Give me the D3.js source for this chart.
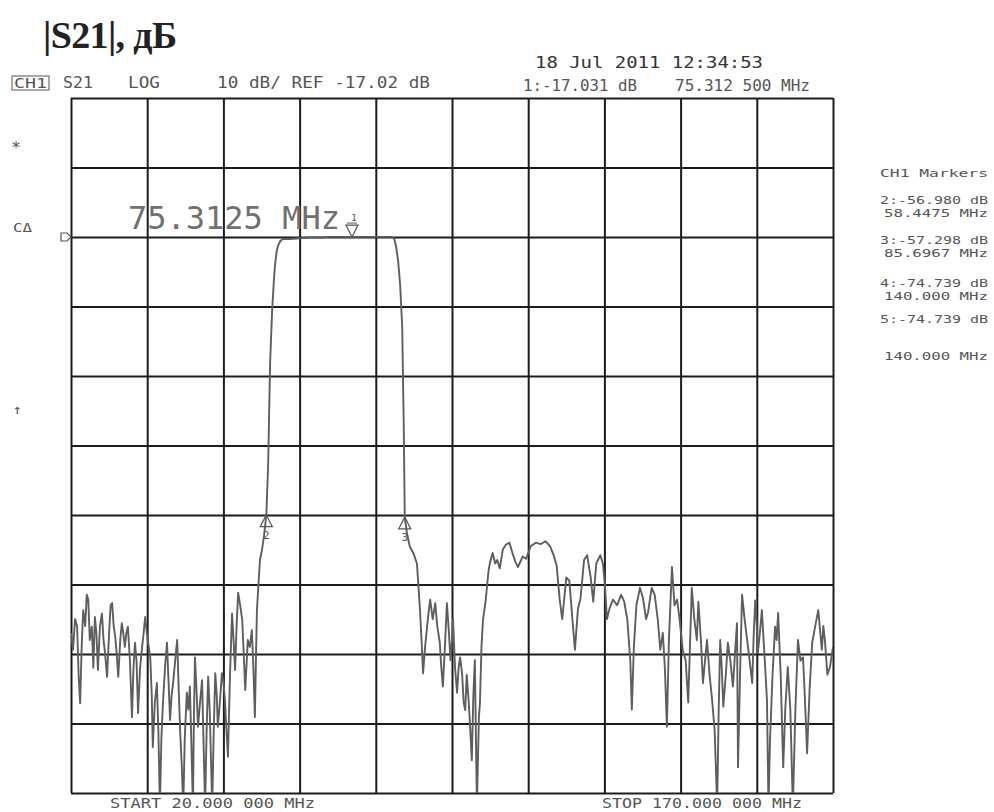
<!DOCTYPE html>
<html>
<head>
<meta charset="utf-8">
<script src="https://cdn.jsdelivr.net/npm/d3@7"></script>
<style>
  body { margin: 0; background: #fff; }
  svg { display: block; background: #fff; }
  .mono { font-family: 'DejaVu Sans Mono', monospace; fill: #555; }
</style>
</head>
<body>
<svg id="chart" width="994" height="812"></svg>
<script>
/* S21 sweep of a band-pass filter, redrawn from an analyzer printout */

// sweep settings
const startMHz = 20;
const stopMHz = 170;
const refDb = -17.02;
const dbPerDiv = 10;
const refDiv = 2; // ref line sits 2 divisions below the top

const traceS21 = [
  [20.0, -74], [20.4, -76.4], [20.8, -72], [21.2, -73.1], [21.5, -80], [21.8, -84.1],
  [22.1, -76], [22.4, -70.7], [22.8, -73], [23.1, -68.5], [23.4, -69.2], [23.7, -75],
  [24.1, -73.1], [24.4, -79], [24.7, -71.7], [25.0, -74], [25.3, -79.3], [25.7, -73],
  [26.1, -71.2], [26.4, -75], [26.7, -76.9], [27.1, -80.3], [27.5, -74], [27.8, -70],
  [28.1, -69.7], [28.4, -73], [28.7, -74.5], [29.0, -77], [29.3, -80.3], [29.7, -75],
  [30.0, -72.6], [30.3, -74], [30.6, -76], [30.9, -74], [31.2, -73.1], [31.6, -78],
  [32.0, -86.1], [32.3, -79], [32.6, -75.4], [32.9, -78], [33.2, -85.5], [33.6, -79],
  [34.0, -76], [34.3, -74], [34.6, -71.7], [35.0, -74.5],
  [35.3, -76], [35.6, -77.5], [35.9, -83], [36.1, -90.4], [36.5, -84], [36.9, -81.2],
  [37.2, -88], [37.5, -99], [37.8, -89], [38.1, -84.1], [38.5, -79], [38.9, -75.4],
  [39.2, -81], [39.5, -86.5], [39.8, -83], [40.1, -81.2], [40.5, -78], [40.9, -75],
  [41.2, -82], [41.5, -88.4], [41.8, -93], [42.1, -99], [42.4, -89], [42.8, -82.6],
  [43.1, -85], [43.4, -81.7], [43.7, -90], [44.0, -99], [44.2, -86], [44.4, -77.5],
  [44.7, -82], [45.0, -87.5], [45.4, -84], [45.8, -80.8], [46.1, -90], [46.4, -99],
  [46.7, -88], [47.0, -80.3], [47.3, -85], [47.8, -99], [48.1, -88], [48.4, -79.8],
  [48.7, -83], [48.9, -87.5], [49.3, -84], [49.7, -79.8], [50.0, -81], [50.3, -83.6],
  [50.6, -88], [50.9, -91.8],
  [51.3, -80], [51.7, -71.2], [52.0, -75], [52.3, -79.3], [52.6, -73], [52.9, -68.2],
  [53.3, -70], [53.7, -72.1], [54.0, -77], [54.3, -82.2], [54.6, -78], [54.8, -75],
  [55.2, -76], [55.6, -73.6], [55.9, -79], [56.2, -86.1], [56.4, -78], [56.6, -70.7],
  [56.9, -67], [57.2, -63.5], [57.6, -62], [58.0, -60], [58.45, -57.0],
  [58.8, -50], [59.2, -35], [59.6, -27.5], [60.0, -22.5], [60.2, -20.8], [60.5, -19],
  [60.8, -18.2], [61.2, -17.6], [61.7, -17.3],
  [63, -17.3], [65, -17.2], [67, -17.1], [69, -17.1], [71, -17.0], [73, -17.0],
  [75.3, -17.03], [77, -17.0], [79, -17.0], [81, -17.0], [83, -17.0],
  [83.6, -17.2], [84.0, -18.4], [84.4, -20.5], [84.8, -24], [85.2, -30], [85.5, -44],
  [85.7, -57.3], [86.1, -59.5], [86.7, -61.6], [87.4, -62.5], [88.1, -64],
  [88.7, -70.7], [89.0, -75], [89.3, -79.8], [89.7, -76], [90.1, -73.1], [90.4, -71],
  [90.7, -69.2], [91.2, -72], [91.7, -69.7], [92.1, -73], [92.6, -75.4], [92.9, -79],
  [93.2, -81.7], [93.6, -76], [94.0, -69.7], [94.4, -74], [94.7, -77.9], [95.0, -75],
  [95.2, -72], [95.6, -79], [96.0, -82.6], [96.3, -79], [96.6, -77.5], [97.0, -80],
  [97.3, -84], [97.6, -85.1], [97.9, -80], [98.3, -84], [98.6, -88], [98.9, -92.3],
  [99.2, -83], [99.5, -77.9], [99.9, -99], [100.3, -86], [100.5, -84.1], [100.8, -76],
  [101.1, -72.1], [101.6, -69.5], [102.2, -65], [102.5, -63.8], [103.0, -62.5], [103.5, -64],
  [103.9, -63.5], [104.4, -64.7], [105.0, -62], [105.6, -61.3], [106.3, -61], [106.9, -62.5],
  [107.5, -63.8], [108.0, -64.5], [108.9, -63], [109.6, -63.3], [110.5, -61.5], [111.5, -61],
  [112.5, -61.2], [113.4, -60.8], [114.3, -61.5], [115.0, -62.8], [115.6, -64.3], [116.2, -69.2],
  [116.7, -72], [117.5, -66], [118.1, -66.5], [118.7, -72], [119.2, -76.4], [119.8, -70.5],
  [120.3, -69], [121.0, -63.5], [121.6, -62.8], [122.3, -66], [122.8, -69.5], [123.4, -64],
  [124.2, -62.8], [124.7, -64], [125.1, -67], [125.5, -72], [126.0, -70.5], [126.7, -69.2],
  [127.5, -70], [128.3, -68.5], [128.9, -69.5], [129.5, -72], [130.1, -78], [130.4, -85],
  [130.8, -76], [131.3, -70], [132.0, -67.5], [132.6, -69], [133.2, -72], [133.6, -71],
  [134.3, -67.5], [134.9, -68.5], [135.5, -72], [136.0, -76.4], [136.5, -74], [136.9, -79],
  [137.3, -87.5], [137.7, -75], [138.3, -64.5], [138.8, -70], [139.3, -69.2], [139.8, -72],
  [140.4, -76.4], [141.0, -78], [141.5, -84], [142.2, -67.5], [142.7, -72], [143.2, -75],
  [143.5, -69.5], [144.0, -75], [144.4, -81.2],
  [144.8, -78], [145.2, -75], [145.7, -80], [146.2, -83.6], [146.7, -88], [147.2, -99],
  [147.5, -85], [147.8, -75], [148.1, -79], [148.4, -84.6], [148.9, -80], [149.3, -75.4],
  [149.8, -78], [150.3, -81.7], [150.7, -77], [151.1, -72.6], [151.3, -93.3], [151.7, -80],
  [152.1, -68.5], [152.6, -72], [153.1, -75], [153.6, -78], [154.1, -81.2], [154.4, -74],
  [154.7, -69.3], [155.0, -73], [155.2, -76.9], [155.6, -74], [156.0, -70.7], [156.5, -77],
  [157.0, -83.6], [157.3, -99], [157.6, -89.4], [158.1, -80], [158.6, -73.1], [158.9, -75],
  [159.2, -71.1], [159.7, -80], [160.2, -93.3], [160.6, -85], [161.1, -78.9], [161.6, -85],
  [162.1, -99], [162.6, -85], [163.1, -75], [163.6, -78], [164.1, -77.5], [164.5, -84],
  [164.9, -91.3], [165.4, -82], [165.9, -75.4], [166.5, -73], [167.1, -70.7], [167.5, -74],
  [167.8, -76.4], [168.1, -73], [168.4, -75], [168.9, -80], [169.4, -78.9], [170.0, -76],
];

// markers shown on the trace
const markerIds = ['1', '2', '3'];
const markerMHz = [75.3125, 58.4475, 85.6967];
const markerDb = [-17.031, -56.98, -57.298];

// marker table on the right
const tableLines = [
  'CH1 Markers',
  '2:-56.980 dB', '58.4475 MHz',
  '3:-57.298 dB', '85.6967 MHz',
  '4:-74.739 dB', '140.000 MHz',
  '5:-74.739 dB', '140.000 MHz',
];
const tableBaselines = [177, 204, 217, 244, 257, 287, 300, 323, 360];

const svg = d3.select('#chart');

// plot box
const plotLeft = 71;
const plotRight = 833;
const plotTop = 98;
const plotBottom = 793;

const x = d3.scaleLinear()
  .domain([startMHz, stopMHz])
  .range([plotLeft, plotRight]);

const topDb = refDb + refDiv * dbPerDiv;
const y = d3.scaleLinear()
  .domain([topDb - 10 * dbPerDiv, topDb])
  .range([plotBottom, plotTop]);

const xGrid = d3.range(0, 11).map((i) => startMHz + i * (stopMHz - startMHz) / 10);
const yGrid = d3.range(0, 11).map((i) => topDb - i * dbPerDiv);

// graticule: axes with full-length ticks and no labels
svg.append('g')
  .attr('transform', `translate(0,${plotBottom})`)
  .call(d3.axisBottom(x).tickValues(xGrid).tickSize(-(plotBottom - plotTop)).tickFormat(''))
  .call((g) => g.select('.domain').remove())
  .selectAll('line')
  .attr('stroke', '#1c1c1c')
  .attr('stroke-width', 2);

svg.append('g')
  .attr('transform', `translate(${plotLeft},0)`)
  .call(d3.axisLeft(y).tickValues(yGrid).tickSize(-(plotRight - plotLeft)).tickFormat(''))
  .call((g) => g.select('.domain').remove())
  .selectAll('line')
  .attr('stroke', '#1c1c1c')
  .attr('stroke-width', 2);

svg.append('clipPath')
  .attr('id', 'plotClip')
  .append('rect')
  .attr('x', plotLeft)
  .attr('y', plotTop)
  .attr('width', plotRight - plotLeft)
  .attr('height', plotBottom - plotTop);

// the trace
const line = d3.line()
  .x((d) => x(d[0]))
  .y((d) => y(d[1]));

svg.append('path')
  .datum(traceS21)
  .attr('clip-path', 'url(#plotClip)')
  .attr('d', line)
  .attr('fill', 'none')
  .attr('stroke', '#5e5e5e')
  .attr('stroke-width', 1.9)
  .attr('stroke-linejoin', 'round');

// big marker readout
svg.append('text')
  .attr('class', 'mono')
  .attr('x', 128)
  .attr('y', 229)
  .style('font-size', '32px')
  .style('fill', '#707070')
  .text('75.3125 MHz');

// marker symbols: active one points down, others up
const markers = markerIds.map((id, i) => ({ id, f: markerMHz[i], db: markerDb[i] }));

markers.forEach((m, i) => {
  const mx = x(m.f);
  const my = y(m.db);
  const g = svg.append('g').attr('stroke', '#555').attr('fill', 'none');
  if (i === 0) {
    g.append('path')
      .attr('d', `M${mx},${my} L${mx - 6},${my - 12} L${mx + 6},${my - 12} Z`)
      .attr('stroke-width', 1.2);
    g.append('line')
      .attr('x1', mx - 5).attr('x2', mx + 5)
      .attr('y1', my - 14).attr('y2', my - 14)
      .attr('stroke-width', 1);
    g.append('text')
      .attr('class', 'mono')
      .attr('x', mx + 2)
      .attr('y', my - 16)
      .attr('text-anchor', 'middle')
      .attr('stroke', 'none')
      .style('font-size', '9px')
      .text(m.id);
  } else {
    g.append('path')
      .attr('d', `M${mx},${my} L${mx - 6},${my + 12} L${mx + 6},${my + 12} Z`)
      .attr('stroke-width', 1.2);
    g.append('text')
      .attr('class', 'mono')
      .attr('x', mx)
      .attr('y', my + 24)
      .attr('text-anchor', 'middle')
      .attr('stroke', 'none')
      .style('font-size', '11px')
      .text(m.id);
  }
});

// reference level pointer on the left edge
const yRef = y(refDb);
svg.append('path')
  .attr('d', `M${plotLeft - 10},${yRef - 4} L${plotLeft - 4},${yRef - 4} L${plotLeft},${yRef} L${plotLeft - 4},${yRef + 4} L${plotLeft - 10},${yRef + 4} Z`)
  .attr('fill', 'none')
  .attr('stroke', '#555')
  .attr('stroke-width', 1.2);

// title
svg.append('text')
  .attr('x', 43)
  .attr('y', 48)
  .attr('textLength', 134)
  .style('font-family', "'Liberation Serif', 'Times New Roman', serif")
  .style('font-weight', 'bold')
  .style('font-size', '38px')
  .style('fill', '#222')
  .text('|S21|, дБ');

// header texts
const addText = (txt, x0, x1, yb, size, color) => svg.append('text')
  .attr('class', 'mono')
  .attr('x', x0)
  .attr('y', yb)
  .attr('textLength', x1 - x0)
  .attr('lengthAdjust', 'spacingAndGlyphs')
  .style('font-size', `${size}px`)
  .style('fill', color || '#555')
  .text(txt);

svg.append('rect')
  .attr('x', 12)
  .attr('y', 76)
  .attr('width', 37)
  .attr('height', 14)
  .attr('fill', 'none')
  .attr('stroke', '#555')
  .attr('stroke-width', 1);
addText('CH1', 14, 47, 88, 14);
addText('S21', 63, 93, 88, 15);
addText('LOG', 128, 160, 88, 15);
addText('10 dB/ REF -17.02 dB', 217, 430, 88, 15);

addText('18 Jul 2011  12:34:53', 535, 763, 68, 16, '#333');
addText('1:-17.031 dB', 523, 637, 91, 15);
addText('75.312 500 MHz', 675, 810, 91, 15);

// left margin symbols
addText('*', 11, 21, 153, 15);
addText('C\u0394', 13, 32, 232, 13);
addText('\u2191', 13, 22, 414, 13);

// marker table, right aligned
svg.selectAll('.table')
  .data(tableLines)
  .enter()
  .append('text')
  .attr('class', 'mono')
  .attr('x', 988)
  .attr('y', (_, i) => tableBaselines[i])
  .attr('text-anchor', 'end')
  .attr('textLength', (d) => (d.endsWith('MHz') ? 104 : 108))
  .attr('lengthAdjust', 'spacingAndGlyphs')
  .style('font-size', '11px')
  .text((d) => d);

// sweep limits
addText('START  20.000 000 MHz', 110, 315, 808, 14);
addText('STOP 170.000 000 MHz', 602, 802, 808, 14);
</script>
</body>
</html>
